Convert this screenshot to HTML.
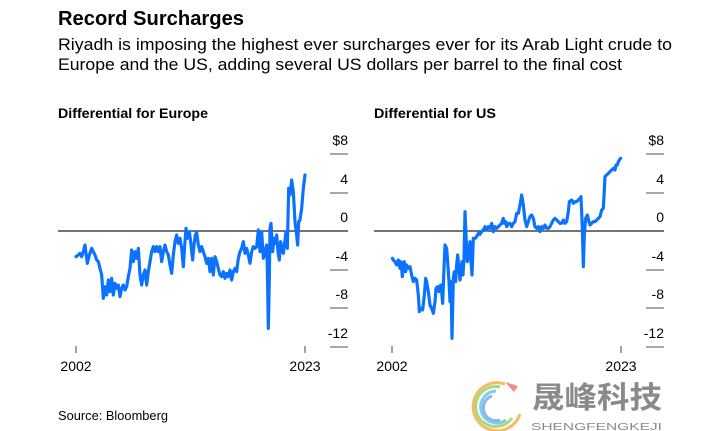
<!DOCTYPE html>
<html><head><meta charset="utf-8"><style>
html,body{margin:0;padding:0;background:#fff;}
svg{display:block;}
text{font-family:"Liberation Sans",Arial,sans-serif;fill:#000;}
</style></head><body>
<svg width="720" height="431" viewBox="0 0 720 431" xmlns="http://www.w3.org/2000/svg">
<text x="58" y="25" font-size="20" font-weight="bold" textLength="186" lengthAdjust="spacingAndGlyphs">Record Surcharges</text>
<text x="58" y="50" font-size="16.5" textLength="614" lengthAdjust="spacingAndGlyphs">Riyadh is imposing the highest ever surcharges ever for its Arab Light crude to</text>
<text x="58" y="70" font-size="16.5" textLength="564" lengthAdjust="spacingAndGlyphs">Europe and the US, adding several US dollars per barrel to the final cost</text>

<text x="58" y="118" font-size="14" font-weight="bold" textLength="150" lengthAdjust="spacingAndGlyphs">Differential for Europe</text>
<text x="374" y="118" font-size="14" font-weight="bold" textLength="122" lengthAdjust="spacingAndGlyphs">Differential for US</text>

<g stroke="#8c8c8c" stroke-width="1.6">
<line x1="330" y1="154" x2="348" y2="154"/>
<line x1="330" y1="193" x2="348" y2="193"/>
<line x1="330" y1="270" x2="348" y2="270"/>
<line x1="330" y1="308" x2="348" y2="308"/>
<line x1="330" y1="347" x2="348" y2="347"/>
<line x1="76" y1="346" x2="76" y2="353"/>
<line x1="305" y1="346" x2="305" y2="353"/>
<line x1="646" y1="154" x2="664" y2="154"/>
<line x1="646" y1="193" x2="664" y2="193"/>
<line x1="646" y1="270" x2="664" y2="270"/>
<line x1="646" y1="308" x2="664" y2="308"/>
<line x1="646" y1="347" x2="664" y2="347"/>
<line x1="392" y1="346" x2="392" y2="353"/>
<line x1="621" y1="346" x2="621" y2="353"/>
</g>
<line x1="58" y1="231" x2="348" y2="231" stroke="#222" stroke-width="1.3"/>
<line x1="374" y1="231" x2="664" y2="231" stroke="#222" stroke-width="1.3"/>

<g font-size="14" text-anchor="end">
<text x="348" y="145">$8</text>
<text x="348" y="184">4</text>
<text x="348" y="222">0</text>
<text x="348" y="261">-4</text>
<text x="348" y="299">-8</text>
<text x="348" y="338">-12</text>
<text x="664" y="145">$8</text>
<text x="664" y="184">4</text>
<text x="664" y="222">0</text>
<text x="664" y="261">-4</text>
<text x="664" y="299">-8</text>
<text x="664" y="338">-12</text>
</g>
<g font-size="14" text-anchor="middle">
<text x="76" y="371">2002</text>
<text x="305" y="371">2023</text>
<text x="392" y="371">2002</text>
<text x="621" y="371">2023</text>
</g>

<g transform="translate(50 95) scale(0.33333)">
<path fill="none" stroke="#0a72ff" stroke-width="9.5" stroke-linejoin="round" stroke-linecap="round" d="M78,485 L85,480 L90,475 L95,485 L100,470 L105,450 L108,475 L112,505 L118,480 L125,460 L130,470 L135,480 L140,495 L145,500 L150,520 L155,540 L160,610 L165,575 L170,600 L175,555 L180,590 L185,550 L190,600 L195,565 L200,580 L205,570 L210,605 L215,580 L220,570 L225,585 L230,575 L235,545 L240,520 L245,465 L250,500 L255,470 L260,490 L265,460 L270,540 L275,570 L280,540 L285,525 L290,570 L295,530 L300,500 L305,470 L310,455 L315,470 L320,455 L325,470 L330,455 L335,500 L340,470 L345,450 L350,470 L355,480 L360,510 L365,535 L370,480 L375,440 L380,420 L385,445 L390,430 L395,460 L400,515 L405,440 L408,400 L412,430 L418,410 L422,440 L428,495 L432,450 L436,420 L440,412 L445,450 L450,470 L455,455 L460,470 L465,485 L470,505 L475,490 L480,530 L485,490 L490,540 L495,485 L500,500 L505,520 L510,540 L515,545 L520,530 L525,550 L530,535 L535,545 L540,525 L545,555 L550,530 L555,520 L560,530 L565,490 L570,470 L575,460 L580,440 L585,475 L590,460 L595,480 L600,505 L605,470 L610,455 L615,460 L620,455 L625,405 L630,470 L635,410 L640,490 L645,470 L650,450 L652,520 L655,700 L658,550 L660,400 L663,385 L668,470 L672,430 L676,445 L680,420 L684,470 L688,495 L692,440 L696,460 L700,475 L704,445 L708,410 L712,460 L716,280 L720,300 L725,255 L730,290 L735,380 L740,420 L743,450 L746,380 L750,375 L755,340 L760,280 L765,240"/>
</g>

<g transform="translate(360 95) scale(0.33333)">
<path fill="none" stroke="#0a72ff" stroke-width="9.5" stroke-linejoin="round" stroke-linecap="round" d="M97,490 L100,495 L105,500 L110,510 L115,495 L120,520 L123,500 L127,545 L130,515 L133,500 L137,530 L140,510 L145,520 L150,515 L155,540 L160,560 L165,550 L170,555 L175,600 L178,650 L183,640 L188,645 L193,600 L197,550 L200,560 L205,590 L210,630 L215,640 L220,655 L225,620 L228,580 L233,575 L237,590 L242,570 L245,590 L248,625 L252,520 L255,450 L260,460 L263,500 L267,560 L270,620 L273,560 L276,730 L280,550 L283,530 L287,560 L290,510 L293,480 L297,520 L300,555 L303,530 L306,500 L309,540 L312,490 L315,350 L318,420 L322,500 L326,480 L330,440 L333,500 L336,540 L340,430 L345,430 L350,425 L355,415 L360,418 L365,410 L370,405 L375,395 L380,405 L385,395 L390,400 L395,385 L400,410 L405,395 L410,400 L415,395 L420,390 L425,385 L430,370 L433,385 L437,380 L440,395 L445,385 L450,385 L455,395 L460,385 L465,380 L470,355 L475,355 L480,330 L485,300 L490,330 L495,375 L500,395 L505,380 L510,365 L515,360 L520,370 L525,395 L530,400 L535,395 L540,410 L545,395 L550,400 L555,390 L560,400 L565,400 L570,395 L575,385 L580,375 L585,370 L590,375 L595,380 L600,385 L605,385 L610,375 L615,385 L620,380 L625,350 L628,320 L635,315 L640,325 L645,320 L650,320 L655,315 L660,310 L663,305 L667,400 L670,515 L673,420 L677,370 L682,360 L687,380 L690,390 L695,385 L700,380 L705,380 L710,375 L715,370 L720,365 L725,345 L730,340 L735,245 L740,240 L745,235 L750,230 L755,225 L760,220 L765,225 L768,210 L772,210 L775,200 L778,195 L782,190"/>
</g>

<text x="58" y="420" font-size="13" textLength="110" lengthAdjust="spacingAndGlyphs">Source: Bloomberg</text>

<g opacity="0.85">
<path d="M505,384 A24,24 0 1 0 520,414" fill="none" stroke="#f5b04a" stroke-width="3"/>
<path d="M500,387 A20,20 0 1 0 512,418" fill="none" stroke="#9bd46a" stroke-width="3"/>
<path d="M496,391 A16,16 0 1 0 506,420" fill="none" stroke="#6cc6e8" stroke-width="3"/>
<path d="M492,396 A12,12 0 1 0 500,420" fill="none" stroke="#7aa7f0" stroke-width="3"/>
<path d="M505,382 L518,386 L514,392 Z" fill="#f07a7a"/>
</g>
<text x="532" y="408" font-size="30" font-weight="bold" fill="#8a8a8a" style="font-family:'Noto Sans CJK SC','WenQuanYi Zen Hei',sans-serif;fill:#8a8a8a" textLength="130" lengthAdjust="spacingAndGlyphs">晟峰科技</text>
<text x="531" y="430" font-size="10" fill="#8a8a8a" style="fill:#8a8a8a" textLength="131" lengthAdjust="spacingAndGlyphs">SHENGFENGKEJI</text>
</svg>
</body></html>
